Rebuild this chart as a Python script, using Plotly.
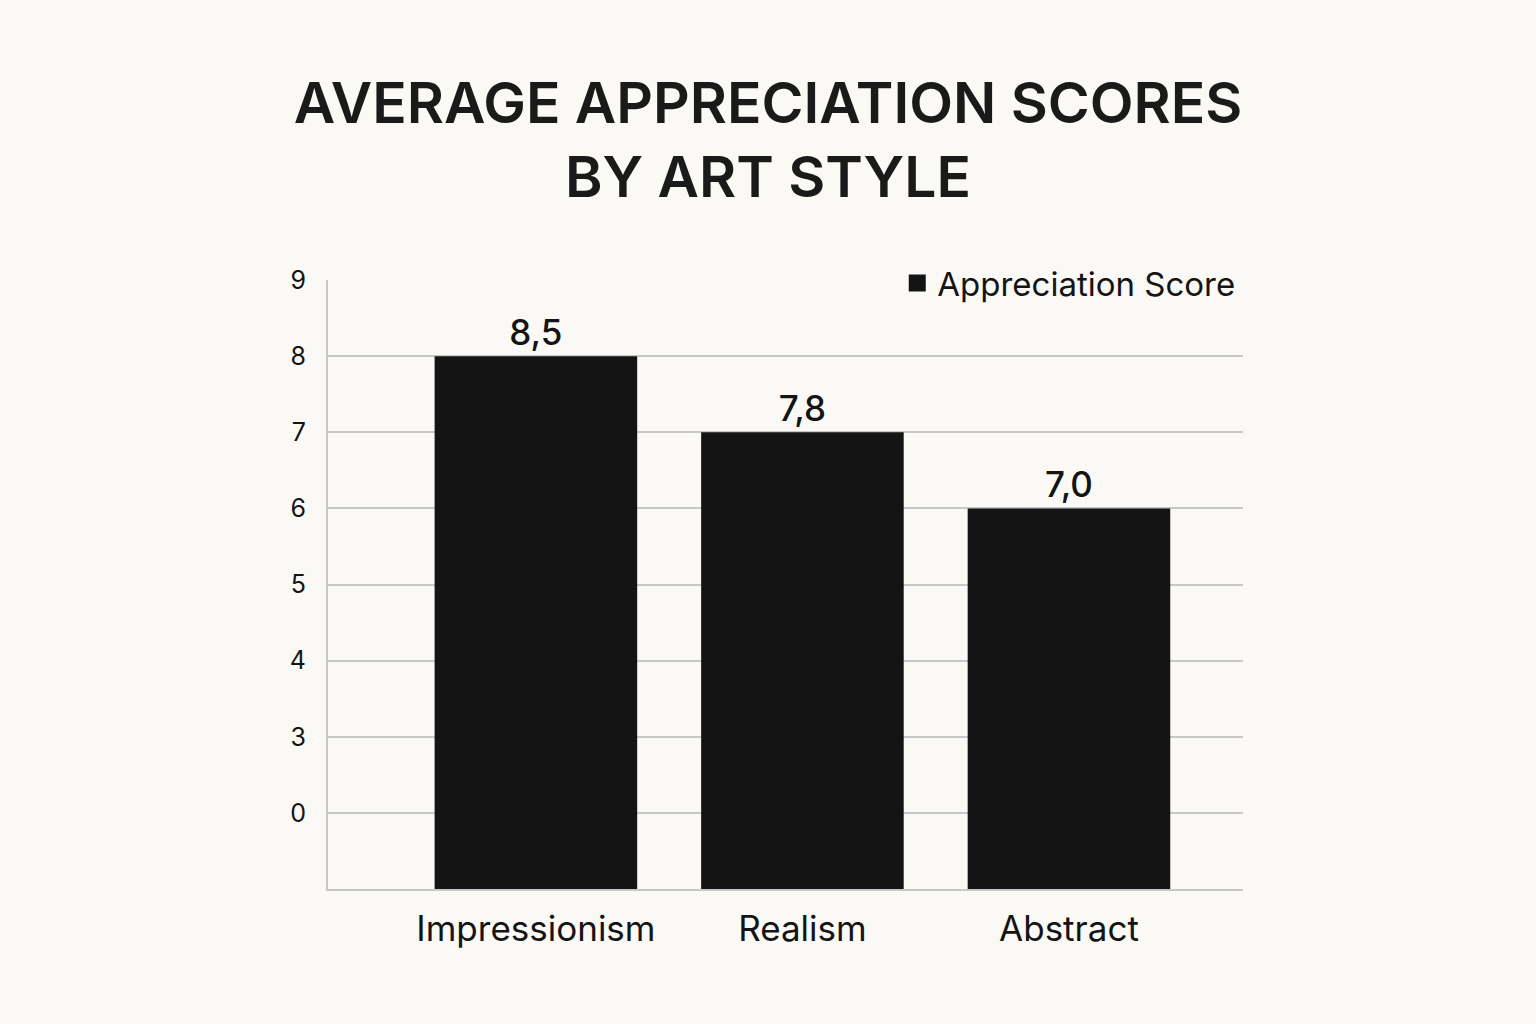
import plotly.graph_objects as go

# values; bar heights are in tick-label units
styles = ['Impressionism', 'Realism', 'Abstract']
bar_heights = [8, 7, 6]
score_labels = ['8,5', '7,8', '7,0']

# the y axis of the original is not linear in its labels: "0" sits one step above the base
tick_pos = [2, 3, 4, 5, 6, 7, 8, 9]
tick_text = ['0', '3', '4', '5', '6', '7', '8', '9']

BG = '#faf9f5'
INK = '#141414'
GRID = '#c8c8c8'
FONT = 'Inter, Roboto, sans-serif'

fig = go.Figure()
fig.add_bar(
    x=styles,
    y=bar_heights,
    name='Appreciation Score',
    text=score_labels,
    textposition='outside',
    textfont=dict(size=35, color=INK, weight=500),
    marker=dict(color=INK, line=dict(width=0)),
    width=0.76,
    cliponaxis=False,
    showlegend=False,
)
# legend-only entry so the swatch can be drawn bigger
fig.add_bar(
    x=[None], y=[None],
    name='Appreciation Score',
    marker=dict(color=INK, line=dict(color=INK, width=16)),
    showlegend=True,
)

fig.update_layout(
    width=1536, height=1024,
    paper_bgcolor=BG, plot_bgcolor=BG,
    font=dict(family=FONT, color=INK),
    margin=dict(l=328, r=293, t=280, b=135),
    title=dict(
        text='AVERAGE APPRECIATION SCORES<br>BY ART STYLE',
        x=0.5, xanchor='center', yref='container', y=1 - 123 / 1024, yanchor='top',
        font=dict(size=57, color='#1a1a1a', family=FONT, weight=600),
    ),
    legend=dict(
        x=0.997, xanchor='right', y=0.995, yanchor='middle',
        bgcolor=BG, font=dict(size=33, color=INK),
        itemwidth=30,
    ),
    barmode='overlay',
)
fig.update_xaxes(
    range=[-0.78, 2.653],
    showline=True, linecolor=GRID, linewidth=2,
    showgrid=False, ticks='', ticklen=0, ticklabelstandoff=8,
    tickfont=dict(size=35, color=INK),
)
fig.update_yaxes(
    range=[1, 9],
    tickvals=tick_pos, ticktext=tick_text,
    showline=True, linecolor=GRID, linewidth=2,
    showgrid=True, gridcolor=GRID, gridwidth=2,
    zeroline=False, ticks='', ticklabelstandoff=15,
    tickfont=dict(size=25, color=INK),
)

fig.write_html(
    'out.html',
    config={'displayModeBar': False},
    post_script="document.body.style.margin='0';document.body.style.background='%s';" % BG,
)
